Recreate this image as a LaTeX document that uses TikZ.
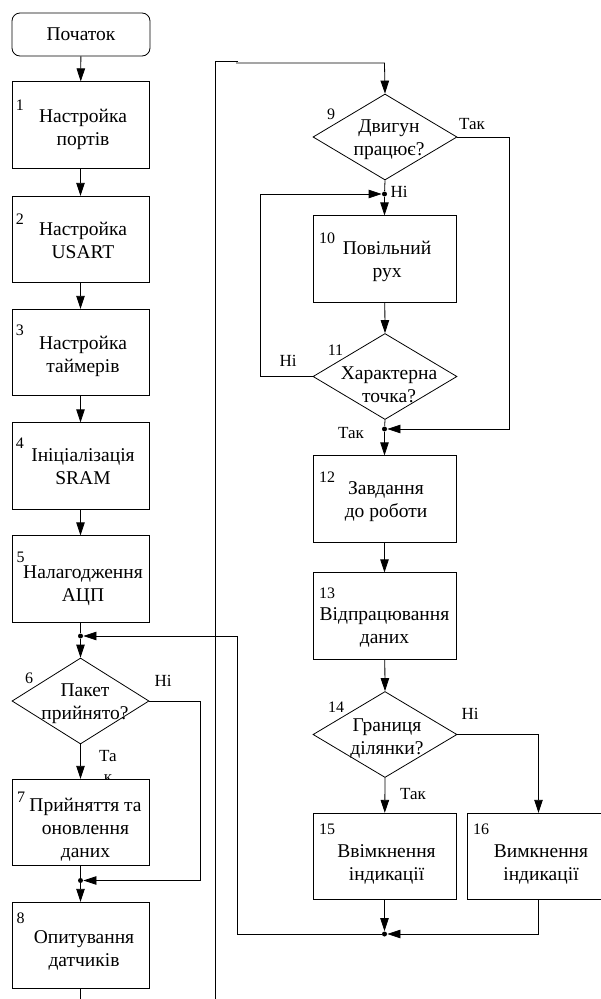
\documentclass[tikz,border=0pt]{standalone}
\usepackage{fontspec}
\setmainfont{Liberation Serif}
\newfontfamily\tnr{Liberation Serif}
\usetikzlibrary{arrows.meta,shapes.geometric}
% #1 = twice the rightward shift, #2 = downward shift, #3 = lines
\newcommand\tx[3]{\raisebox{-#2pt}[\height][\depth]{\hspace*{#1pt}\begin{tabular}{@{}c@{}}#3\end{tabular}}}
\tikzset{
  blk/.style={draw, rectangle, inner sep=0pt, fill=white, font=\tnr\fontsize{19.5}{23}\selectfont},
  lbox/.style={blk, minimum width=137pt, minimum height=86.5pt},
  rbox/.style={blk, minimum width=143pt, minimum height=86.5pt},
  ldia/.style={draw, diamond, inner sep=0pt, minimum width=137pt, minimum height=86pt},
  rdia/.style={draw, diamond, inner sep=0pt, minimum width=144pt, minimum height=86pt},
  dtext/.style={inner sep=0pt, font=\tnr\fontsize{19.5}{23}\selectfont},
  num/.style={inner sep=0pt, font=\tnr\fontsize{16}{18}\selectfont},
  lbl/.style={inner sep=0pt, font=\tnr\fontsize{17}{21}\selectfont, align=center},
  dot/.style={circle, fill, inner sep=0pt, minimum size=5pt},
  flow/.style={-{Triangle[length=13pt,width=8.5pt]}},
}
\begin{document}
\begin{tikzpicture}[x=1pt, y=-1pt, line width=0.8pt]
\fill[white] (0,0) rectangle (600,999);
\useasboundingbox (0,0) rectangle (600,999);

% ---- left column ----
\node[draw, rectangle, rounded corners=8pt, minimum width=138pt, minimum height=43pt, inner sep=0pt,
      font=\tnr\fontsize{19.5}{23}\selectfont] (st) at (81,34.5) {Початок};
\node[lbox] (b1) at (80.5,125) {\tx{5}{4.5}{Настройка\\портів}};
\node[lbox] (b2) at (80.5,239.5) {\tx{5}{3}{Настройка\\USART}};
\node[lbox] (b3) at (80.5,352.5) {\tx{5}{3.5}{Настройка\\таймерів}};
\node[lbox] (b4) at (80.5,466) {\tx{5}{2.5}{Ініціалізація\\SRAM}};
\node[lbox] (b5) at (80.5,579) {\tx{5}{6}{Налагодження\\АЦП}};
\node[dot] (j1) at (80.5,636) {};
\node[ldia] (d6) at (80.5,701) {};
\node[dtext] (d6t) at (80.5,701) {\tx{9}{2.5}{Пакет\\прийнято?}};
\node[lbl] (y6) at (108,766.5) {Та\\к};
\node[lbox] (b7) at (80.5,822.5) {\tx{10}{7}{Прийняття та\\оновлення\\даних}};
\node[dot] (j2) at (80.5,880.5) {};
\node[lbox] (b8) at (80.5,945.5) {\tx{7}{4.5}{Опитування\\датчиків}};
\node[lbl] (n6) at (163,681) {Ні};

% ---- right column ----
\node[rdia] (d9) at (385,137) {};
\node[dtext] (d9t) at (385,137) {\tx{8}{2}{Двигун\\працює?}};
\node[dot] (j3) at (384.5,194) {};
\node[rbox] (b10) at (384.5,259) {\tx{5}{2.5}{Повільний\\рух}};
\node[rdia] (d11) at (385,376.5) {};
\node[dtext] (d11t) at (385,376.5) {\tx{8}{10}{Характерна\\точка?}};
\node[dot] (j4) at (384.5,429) {};
\node[rbox] (b12) at (384.5,499) {\tx{3}{2}{Завдання\\до роботи}};
\node[rbox] (b13) at (384.5,616) {\tx{0}{11.5}{Відпрацювання\\даних}};
\node[rdia] (d14) at (385,734.5) {};
\node[dtext] (d14t) at (385,734.5) {\tx{4}{3.5}{Границя\\ділянки?}};
\node[rbox] (b15) at (384.5,856.5) {\tx{4}{7.5}{Ввімкнення\\індикації}};
\node[rbox] (b16) at (538.5,856.5) {\tx{5}{7.5}{Вимкнення\\індикації}};
\node[dot] (j5) at (384.5,934) {};

% ---- numbers ----
\node[num] (k1) at (20,105) {1};
\node[num] (k2) at (20,219) {2};
\node[num] (k3) at (20,330.5) {3};
\node[num] (k4) at (20,443.5) {4};
\node[num] (k5) at (20.5,557) {5};
\node[num] (k6) at (29,678.5) {6};
\node[num] (k7) at (21,797.5) {7};
\node[num] (k8) at (20.5,918) {8};
\node[num] (k9) at (331,114) {9};
\node[num] (k10) at (327,238.5) {10};
\node[num] (k11) at (335.5,350) {11};
\node[num] (k12) at (327,477) {12};
\node[num] (k13) at (327,593) {13};
\node[num] (k14) at (336,707.5) {14};
\node[num] (k15) at (327,829.5) {15};
\node[num] (k16) at (481,829.5) {16};

% ---- branch labels ----
\node[lbl] (y9) at (472,124) {Так};
\node[lbl] (n9) at (399,192) {Ні};
\node[lbl] (n11) at (288,361) {Ні};
\node[lbl] (y11) at (351,433) {Так};
\node[lbl] (n14) at (470,714) {Ні};
\node[lbl] (y14) at (413,794) {Так};

% ---- helper coordinates ----
\coordinate (c6) at (200,701);
\coordinate (c9) at (509,137);
\coordinate (c11) at (260,376.5);
\coordinate (c14) at (538.5,734.5);
\coordinate (r1) at (237,934);
\coordinate (r2) at (237,636);
\coordinate (e8) at (80.5,999);
\coordinate (t0) at (215,999);
\coordinate (t1) at (215,61);
\coordinate (t2) at (238,61);
\coordinate (t3) at (236,63);
\coordinate (t4) at (384.5,63);

% ---- connectors ----
\draw[flow] (st) -- (b1);
\draw[flow] (b1) -- (b2);
\draw[flow] (b2) -- (b3);
\draw[flow] (b3) -- (b4);
\draw[flow] (b4) -- (b5);
\draw (b5) -- (j1);
\draw[flow] (j1) -- (d6.north);
\draw[flow] (d6.south) -- (b7);
\draw[flow] (d6.east) -- (c6) |- (j2);
\draw (b7) -- (j2);
\draw[flow] (j2) -- (b8);
\draw (b8) -- (e8);

\draw (t0) -- (t1) -- (t2);
\draw[flow] (t3) -- (t4) -- (d9.north);
\draw (d9.south) -- (j3);
\draw[flow] (j3) -- (b10);
\draw[flow] (b10) -- (d11.north);
\draw[flow] (d11.west) -- (c11) |- (j3);
\draw[flow] (d9.east) -- (c9) |- (j4);
\draw (d11.south) -- (j4);
\draw[flow] (j4) -- (b12);
\draw[flow] (b12) -- (b13);
\draw[flow] (b13) -- (d14.north);
\draw[flow] (d14.south) -- (b15);
\draw[flow] (d14.east) -- (c14) -- (b16.north);
\draw[flow] (b15) -- (j5);
\draw[flow] (b16.south) |- (j5);
\draw[flow] (j5) -- (r1) -- (r2) -- (j1);
\end{tikzpicture}
\end{document}
